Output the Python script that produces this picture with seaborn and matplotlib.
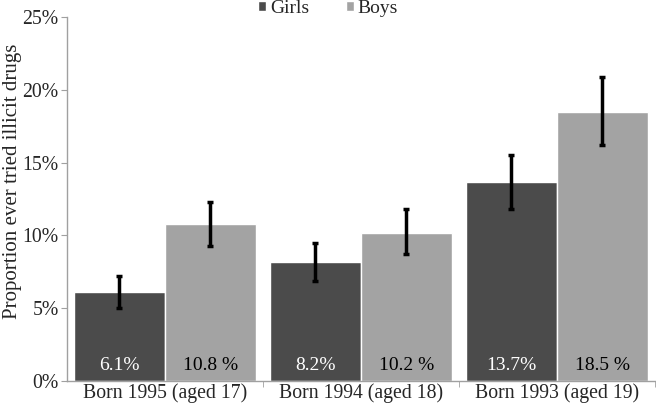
import numpy as np
import pandas as pd
import seaborn as sns
import matplotlib.pyplot as plt
import matplotlib.ticker as mticker

# Data
cohorts = ['Born 1995 (aged 17)', 'Born 1994 (aged 18)', 'Born 1993 (aged 19)']
girls = [6.1, 8.2, 13.7]
boys = [10.8, 10.2, 18.5]
girls_lo = [5.0, 6.9, 11.8]
girls_hi = [7.2, 9.5, 15.5]
boys_lo = [9.3, 8.7, 16.2]
boys_hi = [12.3, 11.8, 20.9]
girls_labels = ['6.1%', '8.2%', '13.7%']
boys_labels = ['10.8 %', '10.2 %', '18.5 %']

df = pd.DataFrame({
    'cohort': cohorts * 2,
    'sex': ['Girls'] * 3 + ['Boys'] * 3,
    'value': girls + boys,
})

sns.set_style("white")
plt.rcParams['font.family'] = ['Liberation Serif', 'DejaVu Serif']

colours = {'Girls': '#4b4b4b', 'Boys': '#a3a3a3'}

fig = plt.figure(figsize=(6.56, 4.09), dpi=100)
ax = fig.add_axes([0.102, 0.0685, 0.896, 0.8895])

sns.barplot(data=df, x='cohort', y='value', hue='sex', order=cohorts,
            hue_order=['Girls', 'Boys'], palette=colours, width=0.93,
            errorbar=None, saturation=1, ax=ax, legend=True)

# Error bars and value labels at the bar centres
lows = girls_lo + boys_lo
highs = girls_hi + boys_hi
texts = girls_labels + boys_labels
vals = girls + boys
bars = [p for p in ax.patches if p.get_height() > 0][:6]
for i, p in enumerate(bars):
    xc = p.get_x() + p.get_width() / 2
    ax.errorbar(xc, vals[i], yerr=[[vals[i] - lows[i]], [highs[i] - vals[i]]],
                fmt='none', ecolor='black', elinewidth=2.5, capsize=2, capthick=2.5)
    ax.text(xc, 1.05, texts[i], ha='center', va='center', fontsize=14,
            color='white' if i < 3 else 'black')

ax.set_ylim(0, 25)
ax.set_xlim(-0.5, 2.5)
ax.yaxis.set_major_locator(mticker.MultipleLocator(5))
ax.yaxis.set_major_formatter(mticker.FuncFormatter(lambda v, _: f'{v:.0f}%'))
ax.set_xlabel('')
ax.set_ylabel('Proportion ever tried illicit drugs', fontsize=15)
ax.yaxis.set_label_coords(-0.077, 0.549)

# Ticks at group boundaries on x
ax.set_xticks([0, 1, 2])
ax.set_xticklabels(cohorts, fontsize=14.2)
ax.xaxis.set_minor_locator(mticker.FixedLocator([0.5, 1.5, 2.5]))
ax.tick_params(axis='x', which='major', length=0, pad=2)
ax.tick_params(axis='x', which='minor', length=4, color='#a0a0a0', direction='out')
ax.tick_params(axis='y', length=4, color='#a0a0a0', direction='out', labelsize=14.2, pad=2)
ax.tick_params(bottom=True, left=True, which='both')

for side in ['top', 'right']:
    ax.spines[side].set_visible(False)
for side in ['left', 'bottom']:
    ax.spines[side].set_color('#a0a0a0')
    ax.spines[side].set_linewidth(1)

handles, labels = ax.get_legend_handles_labels()
ax.get_legend().remove()
fig.legend(handles, labels, loc='upper center', bbox_to_anchor=(0.5, 1.0), ncol=2,
           frameon=False, fontsize=14, handlelength=0.4, handleheight=0.4,
           handletextpad=0.2, columnspacing=1.9, borderaxespad=0, borderpad=0)

fig.savefig('out.png', dpi=100)
